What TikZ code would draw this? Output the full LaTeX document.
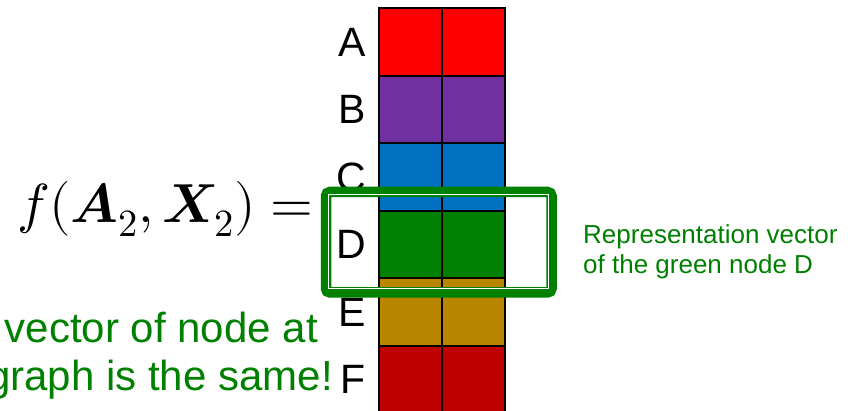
\documentclass[tikz,border=0pt]{standalone}
\usepackage{amsmath}
\usepackage{fontspec}
\usepackage{unicode-math}
\setmainfont{Liberation Sans}
\setmathfont{Latin Modern Math}
\usetikzlibrary{positioning}
\definecolor{rowA}{RGB}{255, 0, 0}
\definecolor{rowB}{RGB}{112, 48, 160}
\definecolor{rowC}{RGB}{0, 112, 192}
\definecolor{rowD}{RGB}{0, 128, 0}
\definecolor{rowE}{RGB}{184, 134, 0}
\definecolor{rowF}{RGB}{192, 0, 0}
\definecolor{txtgreen}{RGB}{0, 128, 0}

\begin{document}
\begin{tikzpicture}[x=1pt, y=-1pt,
  cell/.style={draw=black, line width=2pt, inner sep=0pt, outer sep=0pt,
    minimum width=63pt, minimum height=67.5pt},
  letter/.style={inner sep=0pt, font=\fontsize{41}{49}\selectfont},
  note/.style={txtgreen, inner sep=0pt}]
\useasboundingbox (0,0) rectangle (848,411);
\clip (0,0) rectangle (848,411);
\foreach \n/\c [count=\i from 0] in {A/rowA, B/rowB, C/rowC, D/rowD, E/rowE, F/rowF} {
  \node[cell, fill=\c] (\n1) at (410.5, 42+67.5*\i) {};
  \node[cell, fill=\c, right=0pt of \n1] (\n2) {};
  \node[letter, left=13pt of \n1] (l\n) {\n};
}
\node[anchor=base east, inner sep=0pt, font=\fontsize{55}{62}\selectfont]
  (fAX) at (314,223) {$f(\symbfit{A}_2,\symbfit{X}_2)=$};
\draw[txtgreen, line width=10.5pt, rounded corners=4pt]
  (326,192) rectangle (551.5,292.5);
\draw[white, line width=1.5pt] (328.5,194.5) rectangle (548.5,288.5);
\node[note, anchor=base east, font=\fontsize{42}{48}\selectfont]
  (vecA) at (318,342) {vector of node at};
\node[note, anchor=base east, font=\fontsize{42}{48}\selectfont]
  (vecB) at (333,390) {graph is the same!};
\node[note, anchor=west, align=left, font=\fontsize{26}{30}\selectfont]
  (repD) at (583,252) {Representation vector\\of the green node D};
\end{tikzpicture}
\end{document}
